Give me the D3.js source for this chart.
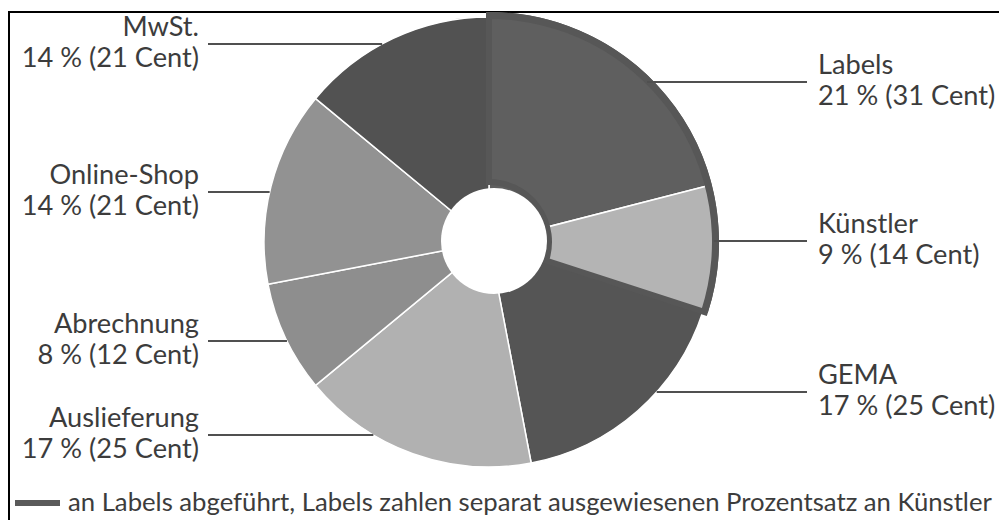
<!DOCTYPE html>
<html>
<head>
<meta charset="utf-8">
<script src="https://cdn.jsdelivr.net/npm/d3@7"></script>
<style>
  html, body { margin: 0; padding: 0; background: #fff; }
  svg { display: block; }
  text { font-family: Lato, "Open Sans", sans-serif; fill: #3c3c3c; }
</style>
</head>
<body>
<svg id="chart" width="999" height="520"></svg>
<script>
// ---- data ----
const categories = ["Labels", "Künstler", "GEMA", "Auslieferung", "Abrechnung", "Online-Shop", "MwSt."];
const percents   = [21, 9, 17, 17, 8, 14, 14];
const cents      = [31, 14, 25, 25, 12, 21, 21];
const highlighted = ["Labels", "Künstler"];
const legendText = "an Labels abgeführt, Labels zahlen separat ausgewiesenen Prozentsatz an Künstler";

// ---- layout / styles ----
const W = 999, H = 520;
const cx = 489, cy = 242, R = 225;
const colors = {
  "Labels": "#5f5f5f", "Künstler": "#b4b4b4", "GEMA": "#555555",
  "Auslieferung": "#b1b1b1", "Abrechnung": "#8e8e8e", "Online-Shop": "#929292", "MwSt.": "#525252"
};
const leaderY = { "Labels": 82, "Künstler": 241, "GEMA": 392, "Auslieferung": 435, "Abrechnung": 341, "Online-Shop": 192, "MwSt.": 44 };
const labelFont = 27.2, legendFont = 25.7;

const svg = d3.select("#chart");

// frame
svg.append("line").attr("x1", 8).attr("x2", W).attr("y1", 12).attr("y2", 12).attr("stroke", "#000").attr("stroke-width", 2);
svg.append("line").attr("x1", 9).attr("x2", 9).attr("y1", 11).attr("y2", H).attr("stroke", "#000").attr("stroke-width", 2);

const data = categories.map((c, i) => ({ name: c, pct: percents[i], cent: cents[i] }));
const pie = d3.pie().sort(null).value(d => d.pct).startAngle(0).endAngle(2 * Math.PI);
const arcs = pie(data);
const arc = d3.arc().innerRadius(0).outerRadius(R);

const g = svg.append("g").attr("transform", `translate(${cx},${cy})`);

g.selectAll("path.slice").data(arcs).join("path")
  .attr("class", "slice")
  .attr("d", arc)
  .attr("fill", d => colors[d.data.name])
  .attr("stroke", "#fff").attr("stroke-width", 1.5).attr("stroke-linejoin", "round");

// hole
svg.append("circle").attr("cx", cx + 5).attr("cy", cy - 1).attr("r", 53).attr("fill", "#fff");

// highlight outline around Labels + Künstler
const hl = arcs.filter(a => highlighted.includes(a.data.name));
const hlStart = d3.min(hl, a => a.startAngle), hlEnd = d3.max(hl, a => a.endAngle);
const hlArc = d3.arc().innerRadius(60).outerRadius(R + 2).startAngle(hlStart).endAngle(hlEnd);
g.append("path").attr("d", hlArc()).attr("fill", "none").attr("stroke", "#575757").attr("stroke-width", 6);
const rimArc = d3.arc().innerRadius(R - 2).outerRadius(R + 5).startAngle(hlStart).endAngle(hlEnd);
g.append("path").attr("d", rimArc()).attr("fill", "#575757");

// leaders + labels
const labelG = svg.append("g");
arcs.forEach(a => {
  const mid = (a.startAngle + a.endAngle) / 2;
  const right = mid < Math.PI;
  const y = leaderY[a.data.name];
  const dy = y - cy;
  const edgeX = cx + (right ? 1 : -1) * Math.sqrt(R * R - dy * dy);
  const outerX = right ? 807 : 208;
  labelG.append("line")
    .attr("x1", edgeX).attr("x2", outerX).attr("y1", y).attr("y2", y)
    .attr("stroke", "#505050").attr("stroke-width", 2);
  const tx = right ? 818 : 199;
  const t = labelG.append("text")
    .attr("x", tx).attr("text-anchor", right ? "start" : "end")
    .style("font-size", labelFont + "px");
  t.append("tspan").attr("x", tx).attr("y", y - 8).text(a.data.name);
  t.append("tspan").attr("x", tx).attr("y", y + 23).text(`${a.data.pct} % (${a.data.cent} Cent)`);
});

// legend
svg.append("line").attr("x1", 15).attr("x2", 60).attr("y1", 503).attr("y2", 503)
  .attr("stroke", "#5a5a5a").attr("stroke-width", 6);
svg.append("text").attr("x", 68).attr("y", 511).style("font-size", legendFont + "px").text(legendText);
</script>
</body>
</html>
